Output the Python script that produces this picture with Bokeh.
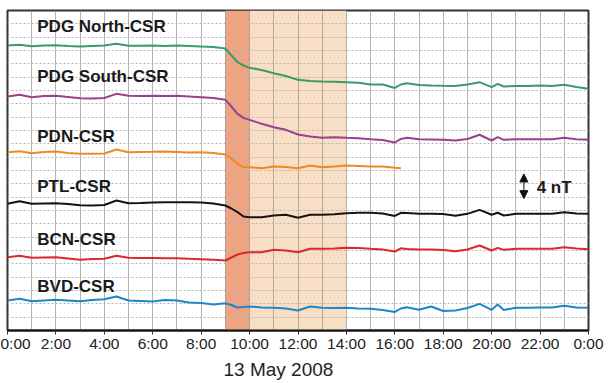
from bokeh.plotting import figure
from bokeh.models import (Range1d, FixedTicker, BoxAnnotation, Label, Arrow,
                          NormalHead, ColumnDataSource, Title)
from bokeh.core.properties import value
from bokeh.embed import file_html
from bokeh.resources import INLINE

# ---------------- data ----------------
hours = [0, 0.5, 1, 1.5, 2, 2.5, 3, 3.5, 4, 4.5, 5, 5.5, 6, 6.5, 7, 7.5, 8, 8.5, 9,
         9.25, 9.5, 9.75,
         10, 10.5, 11, 11.5, 12, 12.5, 13, 13.5, 14, 14.5, 15, 15.5, 16,
         16.25,
         16.5, 17, 17.5, 18, 18.5, 19, 19.5, 20,
         20.25,
         20.5, 21, 21.5, 22, 22.5, 23, 23.5, 24]

pdg_north = [42.75, 42.85, 42.65, 42.75, 42.8, 42.68, 42.6, 42.68, 42.75, 43.0, 42.7, 42.7,
             42.75, 42.68, 42.75, 42.68, 42.6, 42.53, 42.3,
             41.25, 40.25, 39.75,
             39.4, 39.08, 38.6, 38.18, 37.6, 37.43, 37.35, 37.3, 37.25, 37.15, 36.9, 36.9, 36.38,
             36.9,
             37.1, 36.83, 36.75, 36.7, 36.68, 36.9, 37.25, 36.5,
             37.0,
             36.6, 36.68, 36.68, 36.75, 36.68, 36.86, 36.53, 36.26]

pdg_south = [35.1, 35.36, 35.0, 35.18, 35.2, 35.03, 34.85, 34.8, 34.88, 35.5, 35.2, 35.18,
             35.2, 35.18, 35.2, 35.1, 35.0, 34.88, 34.6,
             33.6, 32.5, 31.9,
             31.6, 31.0, 30.5, 30.1, 29.4, 29.1, 28.9, 29.0, 28.9, 28.83, 28.7, 28.58, 28.2,
             28.73,
             28.9, 28.7, 28.65, 28.6, 28.5, 28.73, 29.36, 28.5,
             29.0,
             28.6, 28.7, 28.7, 28.7, 28.7, 28.9, 28.7, 28.6]

pdn = [26.75, 26.9, 26.6, 26.78, 26.85, 26.63, 26.5, 26.5, 26.55, 27.15, 26.75, 26.78,
       26.8, 26.85, 26.78, 26.7, 26.75, 26.63, 26.4,
       25.8, 25.0, 24.5,
       24.5, 24.35, 24.6, 24.53, 24.35, 24.75, 24.5, 24.6, 24.75, 24.68, 24.6, 24.6, 24.4,
       24.35]

ptl = [19.0, 19.4, 19.0, 19.05, 19.1, 18.98, 18.8, 18.75, 18.83, 19.5, 19.1, 19.13,
       19.2, 19.25, 19.25, 19.25, 19.2, 19.05, 18.75,
       18.3, 17.75, 17.1,
       17.0, 17.0, 17.25, 17.36, 16.9, 17.36, 17.36, 17.43, 17.6, 17.66, 17.66, 17.55, 17.18,
       17.66,
       17.63, 17.5, 17.5, 17.48, 17.2, 17.5, 18.1, 17.36,
       17.66,
       17.25, 17.5, 17.5, 17.5, 17.5, 17.75, 17.55, 17.5]

bcn = [11.0, 11.2, 10.9, 10.95, 11.0, 10.8, 10.6, 10.73, 10.76, 11.2, 10.9, 10.88,
       10.88, 10.85, 10.85, 10.76, 10.7, 10.6, 10.5,
       10.95, 11.4, 11.63,
       11.75, 11.75, 12.1, 12.0, 11.75, 12.25, 12.25, 12.3, 12.4, 12.38, 12.25, 12.15, 11.85,
       12.33,
       12.23, 12.15, 12.15, 12.08, 11.9, 12.15, 12.75, 12.0,
       12.4,
       12.1, 12.25, 12.25, 12.25, 12.25, 12.5, 12.3, 12.2]

bvd = [4.5, 4.75, 4.4, 4.5, 4.6, 4.5, 4.4, 4.58, 4.7, 5.1, 4.5, 4.43,
       4.35, 4.58, 4.5, 4.2, 4.13, 3.9, 4.1,
       3.83, 3.45, 3.53,
       3.6, 3.45, 3.4, 3.3, 3.0, 3.6, 3.4, 3.38, 3.4, 3.3, 3.25, 3.08, 2.78,
       3.3,
       3.5, 3.1, 3.6, 2.93, 3.0, 3.38, 4.0, 3.1,
       3.9,
       3.08, 3.4, 3.4, 3.45, 3.45, 3.7, 3.45, 3.4]

series_names = ["PDG North-CSR", "PDG South-CSR", "PDN-CSR", "PTL-CSR", "BCN-CSR", "BVD-CSR"]
series_values = [pdg_north, pdg_south, pdn, ptl, bcn, bvd]
series_colors = ["#3a9a68", "#9b3f8f", "#f0891e", "#141414", "#e0262a", "#1b87c9"]
label_x = [1.23] * 6
label_y = [45.6, 38.15, 29.05, 21.55, 13.65, 6.65]

tick_hours = [0, 2, 4, 6, 8, 10, 12, 14, 16, 18, 20, 22, 24]
tick_labels = ["0:00", "2:00", "4:00", "6:00", "8:00", "10:00", "12:00", "14:00",
               "16:00", "18:00", "20:00", "22:00", "0:00"]

storm_main = (9, 10)
storm_recovery = (10, 14)
scale_bar_nT = 4
date_text = "13 May 2008"

# ---------------- figure ----------------
p = figure(width=610, height=383, output_backend="svg", toolbar_location=None,
           x_range=Range1d(0, 24), y_range=Range1d(0, 48),
           min_border_left=7, min_border_right=22, min_border_top=10, min_border_bottom=53)
p.background_fill_color = "white"
p.border_fill_color = "white"
p.outline_line_color = "#333333"
p.outline_line_width = 2
p.yaxis.visible = False

# shaded storm phases (below grid)
p.add_layout(BoxAnnotation(left=storm_main[0], right=storm_main[1], fill_color="#eea482",
                           fill_alpha=1.0, line_color=None, level="image"))
p.add_layout(BoxAnnotation(left=storm_recovery[0], right=storm_recovery[1], fill_color="#f8dec4",
                           fill_alpha=1.0, line_color=None, level="image"))

# grids
p.xgrid.ticker = FixedTicker(ticks=list(range(0, 25)))
p.xgrid.grid_line_color = "#8c8c8c"
p.xgrid.grid_line_alpha = 0.65
p.xgrid.grid_line_width = 1
p.ygrid.ticker = FixedTicker(ticks=list(range(2, 48, 2)))
p.ygrid.grid_line_color = "#b4b4b4"
p.ygrid.grid_line_dash = "2 2"
p.ygrid.grid_line_width = 1

# x axis
ax = p.xaxis[0]
ax.ticker = FixedTicker(ticks=tick_hours)
ax.major_label_overrides = {h: lab for h, lab in zip(tick_hours, tick_labels)}
ax.major_label_text_font = "Liberation Sans"
ax.major_label_text_font_size = "15.5px"
ax.major_label_text_color = "#222222"
ax.major_tick_out = 4
ax.major_tick_in = 0
ax.minor_tick_out = 0
ax.minor_tick_in = 0
ax.major_label_standoff = 0
ax.axis_line_width = 2
ax.axis_line_color = "#111111"
ax.major_tick_line_color = "#333333"

# date title under the axis
p.add_layout(Title(text=date_text, align="left", offset=216, text_font="Liberation Sans",
                   text_font_size="19px", text_font_style="normal", text_color="#222222",
                   standoff=4), "below")

# series
for vals, col in zip(series_values, series_colors):
    p.line(hours[:len(vals)], vals, line_color=col, line_width=2)

# series labels
src = ColumnDataSource(dict(x=label_x, y=label_y, text=series_names))
p.text(x="x", y="y", text="text", source=src, text_font=value("Liberation Sans"),
       text_font_style="bold", text_font_size=value("17px"), text_color="#1a1a1a",
       text_baseline="alphabetic", text_align="left")

# scale bar
p.add_layout(Arrow(start=NormalHead(size=8, fill_color="#111111", line_color="#111111"),
                   end=NormalHead(size=8, fill_color="#111111", line_color="#111111"),
                   x_start=21.33, y_start=21.63 - scale_bar_nT / 2 + 0.15,
                   x_end=21.33, y_end=21.63 + scale_bar_nT / 2 - 0.15,
                   line_color="#111111", line_width=1))
p.add_layout(Label(x=21.86, y=21.4, text=f"{scale_bar_nT} nT", text_font="Liberation Sans",
                   text_font_style="bold", text_font_size="17px", text_color="#1a1a1a",
                   text_baseline="alphabetic"))

open("out.html", "w").write(file_html(p, INLINE))
